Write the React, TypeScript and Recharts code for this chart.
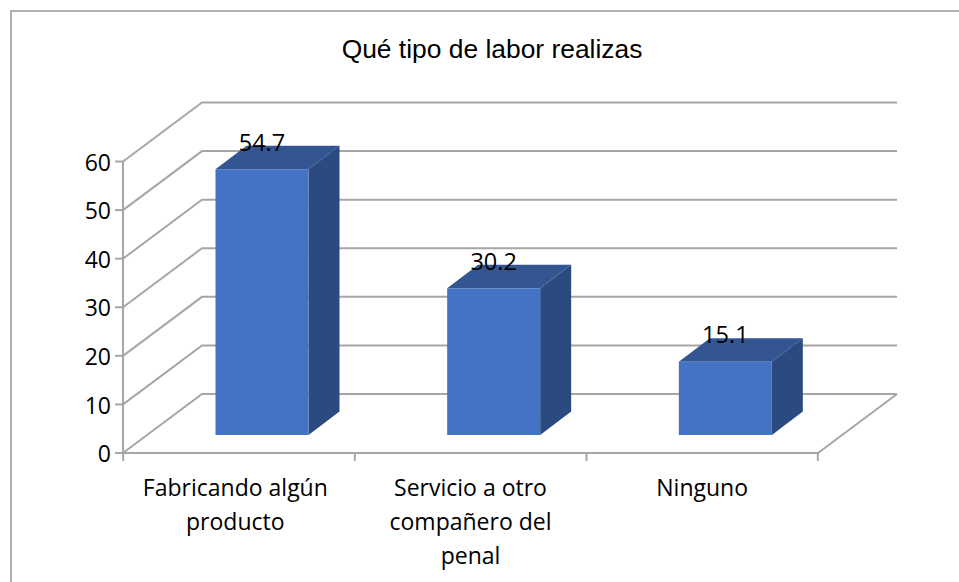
import React from "react";
import { Bar, BarChart, CartesianGrid, LabelList, XAxis, YAxis } from "recharts";

const CATEGORIES = ["Fabricando algún\nproducto", "Servicio a otro\ncompañero del\npenal", "Ninguno"];
const VALUES = [54.7, 30.2, 15.1];
const Y_TICKS = [0, 10, 20, 30, 40, 50, 60];
const TITLE = "Qué tipo de labor realizas";

const WIDTH = 959;
const HEIGHT = 582;
const PLOT_BOTTOM = 453;
const BAND = (818 - 124) / CATEGORIES.length;
const GRID = "#a6a6a6";
const FONT = "'Open Sans', sans-serif";

// 3D projection: the back wall sits up and to the right of the front plane
const WALL_DX = 79;
const WALL_DY = 59;
const BAR_SHIFT_X = 23.5;
const BAR_SHIFT_Y = 18;
const BAR_DEPTH_X = 31;
const BAR_DEPTH_Y = 23.5;

const rows = CATEGORIES.map((name, i) => ({ name, value: VALUES[i] }));

function WallLine(props: any) {
  const { x1, x2, y1 } = props;
  const backY = y1 - WALL_DY;
  const isFloor = Math.abs(y1 - PLOT_BOTTOM) < 2;
  return (
    <g key={props.key ?? y1}>
      <polyline
        points={`${x1},${y1} ${x1 + WALL_DX},${backY} ${x2 + WALL_DX},${backY}`}
        fill="none"
        stroke={GRID}
        strokeWidth={2}
      />
      {isFloor && (
        <line x1={x2} y1={y1} x2={x2 + WALL_DX} y2={backY} stroke={GRID} strokeWidth={2} />
      )}
    </g>
  );
}

function Box3D(props: any) {
  const { x, y, width, height } = props;
  const l = x + BAR_SHIFT_X;
  const r = l + width;
  const t = y - BAR_SHIFT_Y;
  const b = t + height;
  const dx = BAR_DEPTH_X;
  const dy = BAR_DEPTH_Y;
  return (
    <g>
      <polygon points={`${l},${t} ${l + dx},${t - dy} ${r + dx},${t - dy} ${r},${t}`} fill="#335693" />
      <polygon points={`${r},${t} ${r + dx},${t - dy} ${r + dx},${b - dy} ${r},${b}`} fill="#2a4a80" />
      <rect x={l} y={t} width={width} height={height} fill="#4472c4" />
    </g>
  );
}

function BarValue(props: any) {
  const { x, y, width, value } = props;
  return (
    <text
      x={x + width / 2 + BAR_SHIFT_X}
      y={y - BAR_SHIFT_Y - 18.5}
      textAnchor="middle"
      fontFamily={FONT}
      fontSize={23.5}
      fill="#000"
    >
      {value}
    </text>
  );
}

// ticks fall on the band edges, not on the band centres
function CategoryTick(props: any) {
  const { x, payload, index } = props;
  const tickX = x - BAND / 2;
  const textX = index === 0 ? x - 3.5 : x;
  return (
    <g>
      <line x1={tickX} y1={PLOT_BOTTOM} x2={tickX} y2={PLOT_BOTTOM + 8} stroke={GRID} strokeWidth={2} />
      {index === CATEGORIES.length - 1 && (
        <line x1={tickX + BAND} y1={PLOT_BOTTOM} x2={tickX + BAND} y2={PLOT_BOTTOM + 8} stroke={GRID} strokeWidth={2} />
      )}
      <text textAnchor="middle" fontFamily={FONT} fontSize={23} fill="#000">
        {String(payload.value)
          .split("\n")
          .map((line: string, i: number) => (
            <tspan key={line} x={textX} y={496 + i * 34}>
              {line}
            </tspan>
          ))}
      </text>
    </g>
  );
}

export default function App() {
  return (
    <div style={{ position: "absolute", left: 0, top: 0, width: WIDTH, height: HEIGHT, overflow: "hidden", background: "#fff" }}>
      <div
        style={{
          position: "absolute",
          left: 10,
          top: 10,
          right: 0,
          bottom: 0,
          borderLeft: "2px solid #b0b0b0",
          borderTop: "2px solid #b0b0b0",
        }}
      />
      <div
        style={{
          position: "absolute",
          left: 0,
          top: 34,
          width: 984,
          textAlign: "center",
          fontFamily: "'Liberation Sans', Arial, sans-serif",
          fontSize: 26.4,
          color: "#000",
        }}
      >
        {TITLE}
      </div>
      <div style={{ position: "absolute", left: 0, top: 0 }}>
        <BarChart
          width={WIDTH}
          height={HEIGHT}
          data={rows}
          barSize={93}
          margin={{ top: 161.5, right: 141, bottom: 89, left: 83 }}
        >
          <CartesianGrid vertical={false} horizontal={WallLine} />
          <XAxis
            dataKey="name"
            interval={0}
            height={40}
            tick={CategoryTick}
            tickLine={false}
            axisLine={{ stroke: GRID, strokeWidth: 2 }}
          />
          <YAxis
            width={40}
            domain={[0, 60]}
            ticks={Y_TICKS}
            interval={0}
            tickSize={8}
            tickMargin={4}
            tick={{ fontFamily: FONT, fontSize: 23, fill: "#000", dy: 1 }}
            axisLine={{ stroke: GRID, strokeWidth: 2 }}
            tickLine={{ stroke: GRID, strokeWidth: 2 }}
          />
          <Bar dataKey="value" shape={Box3D} isAnimationActive={false}>
            <LabelList dataKey="value" content={BarValue} />
          </Bar>
        </BarChart>
      </div>
    </div>
  );
}
